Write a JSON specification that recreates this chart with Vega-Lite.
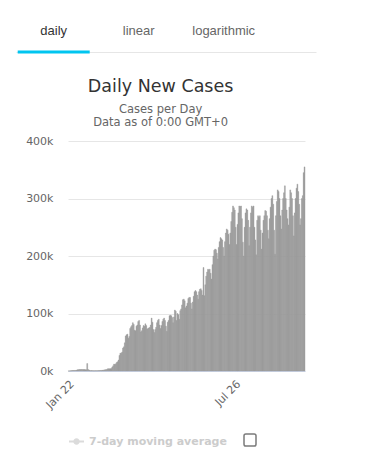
{
  "$schema": "https://vega.github.io/schema/vega-lite/v6.json",
  "background": "white",
  "padding": {"left": 16, "top": 10, "right": 0, "bottom": 0},
  "autosize": {"type": "pad"},
  "columns": 1,
  "spacing": 24,
  "config": {"view": {"stroke": null}, "font": "DejaVu Sans"},
  "concat": [
    {
      "width": 248,
      "height": 42,
      "data": {"values": [
        {"tab": "daily", "active": true},
        {"tab": "linear", "active": false},
        {"tab": "logarithmic", "active": false}
      ]},
      "encoding": {
        "x": {"field": "tab", "type": "nominal", "sort": null,
          "scale": {"type": "point", "range": [-52, 248], "padding": 0.765, "align": 0.29},
          "axis": {"labels": false, "ticks": false, "title": null, "domainColor": "#e6e6e6", "domainWidth": 1}}
      },
      "layer": [
        {"transform": [{"filter": "datum.active"}],
         "mark": {"type": "text", "font": "Liberation Sans", "fontSize": 13, "color": "#333333"},
         "encoding": {"text": {"field": "tab"}}},
        {"transform": [{"filter": "!datum.active"}],
         "mark": {"type": "text", "font": "Liberation Sans", "fontSize": 13, "color": "#666666"},
         "encoding": {"text": {"field": "tab"}}},
        {"transform": [{"filter": "datum.active"}],
         "mark": {"type": "tick", "color": "#00c5f0", "size": 72, "thickness": 3, "opacity": 1},
         "encoding": {"y": {"datum": 0, "type": "quantitative", "scale": {"domain": [0, 1]}, "axis": null}}}
      ]
    },
    {
      "width": 237,
      "height": 230,
      "title": {
        "text": "Daily New Cases",
        "subtitle": ["Cases per Day", "Data as of 0:00 GMT+0"],
        "frame": "bounds", "anchor": "middle",
        "font": "DejaVu Sans", "fontSize": 17.5, "fontWeight": "normal", "color": "#333333",
        "subtitleFont": "DejaVu Sans", "subtitleFontSize": 11.5, "subtitleColor": "#666666",
        "subtitlePadding": 8, "subtitleLineHeight": 13, "offset": 7
      },
      "layer": [
        {
          "data": {"values": [
{"date":"2020-01-22","cases":100},{"date":"2020-01-23","cases":150},{"date":"2020-01-24","cases":260},{"date":"2020-01-25","cases":450},{"date":"2020-01-26","cases":690},{"date":"2020-01-27","cases":800},{"date":"2020-01-28","cases":900},{"date":"2020-01-29","cases":950},{"date":"2020-01-30","cases":1000},{"date":"2020-01-31","cases":1100},
{"date":"2020-02-01","cases":2000},{"date":"2020-02-02","cases":2300},{"date":"2020-02-03","cases":2400},{"date":"2020-02-04","cases":2600},{"date":"2020-02-05","cases":2600},{"date":"2020-02-06","cases":2500},{"date":"2020-02-07","cases":2500},{"date":"2020-02-08","cases":2400},{"date":"2020-02-09","cases":2500},{"date":"2020-02-10","cases":2300},{"date":"2020-02-11","cases":2200},{"date":"2020-02-12","cases":13000},{"date":"2020-02-13","cases":2400},{"date":"2020-02-14","cases":1800},{"date":"2020-02-15","cases":700},{"date":"2020-02-16","cases":600},{"date":"2020-02-17","cases":700},{"date":"2020-02-18","cases":600},{"date":"2020-02-19","cases":400},{"date":"2020-02-20","cases":500},{"date":"2020-02-21","cases":500},{"date":"2020-02-22","cases":600},{"date":"2020-02-23","cases":500},{"date":"2020-02-24","cases":600},{"date":"2020-02-25","cases":700},{"date":"2020-02-26","cases":800},{"date":"2020-02-27","cases":900},{"date":"2020-02-28","cases":1000},{"date":"2020-02-29","cases":1100},
{"date":"2020-03-01","cases":1300},{"date":"2020-03-02","cases":1900},{"date":"2020-03-03","cases":2200},{"date":"2020-03-04","cases":2300},{"date":"2020-03-05","cases":2700},{"date":"2020-03-06","cases":3900},{"date":"2020-03-07","cases":3800},{"date":"2020-03-08","cases":3800},{"date":"2020-03-09","cases":3900},{"date":"2020-03-10","cases":4500},{"date":"2020-03-11","cases":7000},{"date":"2020-03-12","cases":9000},{"date":"2020-03-13","cases":12000},{"date":"2020-03-14","cases":11000},{"date":"2020-03-15","cases":12500},{"date":"2020-03-16","cases":15000},{"date":"2020-03-17","cases":16000},{"date":"2020-03-18","cases":19000},{"date":"2020-03-19","cases":27000},{"date":"2020-03-20","cases":31000},{"date":"2020-03-21","cases":31000},{"date":"2020-03-22","cases":33000},{"date":"2020-03-23","cases":40000},{"date":"2020-03-24","cases":42000},{"date":"2020-03-25","cases":49000},{"date":"2020-03-26","cases":61000},{"date":"2020-03-27","cases":63000},{"date":"2020-03-28","cases":64000},{"date":"2020-03-29","cases":57000},{"date":"2020-03-30","cases":60000},{"date":"2020-03-31","cases":74000},
{"date":"2020-04-01","cases":77000},{"date":"2020-04-02","cases":79000},{"date":"2020-04-03","cases":84000},{"date":"2020-04-04","cases":81000},{"date":"2020-04-05","cases":71000},{"date":"2020-04-06","cases":70000},{"date":"2020-04-07","cases":78000},{"date":"2020-04-08","cases":80000},{"date":"2020-04-09","cases":86000},{"date":"2020-04-10","cases":88000},{"date":"2020-04-11","cases":80000},{"date":"2020-04-12","cases":68000},{"date":"2020-04-13","cases":70000},{"date":"2020-04-14","cases":75000},{"date":"2020-04-15","cases":79000},{"date":"2020-04-16","cases":78000},{"date":"2020-04-17","cases":82000},{"date":"2020-04-18","cases":79000},{"date":"2020-04-19","cases":73000},{"date":"2020-04-20","cases":74000},{"date":"2020-04-21","cases":75000},{"date":"2020-04-22","cases":76000},{"date":"2020-04-23","cases":80000},{"date":"2020-04-24","cases":92000},{"date":"2020-04-25","cases":85000},{"date":"2020-04-26","cases":72000},{"date":"2020-04-27","cases":67000},{"date":"2020-04-28","cases":72000},{"date":"2020-04-29","cases":76000},{"date":"2020-04-30","cases":84000},
{"date":"2020-05-01","cases":88000},{"date":"2020-05-02","cases":90000},{"date":"2020-05-03","cases":80000},{"date":"2020-05-04","cases":74000},{"date":"2020-05-05","cases":79000},{"date":"2020-05-06","cases":86000},{"date":"2020-05-07","cases":90000},{"date":"2020-05-08","cases":92000},{"date":"2020-05-09","cases":88000},{"date":"2020-05-10","cases":78000},{"date":"2020-05-11","cases":69000},{"date":"2020-05-12","cases":85000},{"date":"2020-05-13","cases":88000},{"date":"2020-05-14","cases":96000},{"date":"2020-05-15","cases":97000},{"date":"2020-05-16","cases":96000},{"date":"2020-05-17","cases":93000},{"date":"2020-05-18","cases":84000},{"date":"2020-05-19","cases":94000},{"date":"2020-05-20","cases":106000},{"date":"2020-05-21","cases":104000},{"date":"2020-05-22","cases":88000},{"date":"2020-05-23","cases":100000},{"date":"2020-05-24","cases":98000},{"date":"2020-05-25","cases":90000},{"date":"2020-05-26","cases":105000},{"date":"2020-05-27","cases":108000},{"date":"2020-05-28","cases":115000},{"date":"2020-05-29","cases":124000},{"date":"2020-05-30","cases":125000},{"date":"2020-05-31","cases":122000},
{"date":"2020-06-01","cases":110000},{"date":"2020-06-02","cases":113000},{"date":"2020-06-03","cases":118000},{"date":"2020-06-04","cases":126000},{"date":"2020-06-05","cases":128000},{"date":"2020-06-06","cases":128000},{"date":"2020-06-07","cases":118000},{"date":"2020-06-08","cases":108000},{"date":"2020-06-09","cases":120000},{"date":"2020-06-10","cases":130000},{"date":"2020-06-11","cases":138000},{"date":"2020-06-12","cases":140000},{"date":"2020-06-13","cases":138000},{"date":"2020-06-14","cases":132000},{"date":"2020-06-15","cases":125000},{"date":"2020-06-16","cases":138000},{"date":"2020-06-17","cases":142000},{"date":"2020-06-18","cases":143000},{"date":"2020-06-19","cases":140000},{"date":"2020-06-20","cases":132000},{"date":"2020-06-21","cases":180000},{"date":"2020-06-22","cases":131000},{"date":"2020-06-23","cases":150000},{"date":"2020-06-24","cases":165000},{"date":"2020-06-25","cases":172000},{"date":"2020-06-26","cases":177000},{"date":"2020-06-27","cases":176000},{"date":"2020-06-28","cases":177000},{"date":"2020-06-29","cases":170000},{"date":"2020-06-30","cases":160000},
{"date":"2020-07-01","cases":185000},{"date":"2020-07-02","cases":200000},{"date":"2020-07-03","cases":210000},{"date":"2020-07-04","cases":212000},{"date":"2020-07-05","cases":211000},{"date":"2020-07-06","cases":205000},{"date":"2020-07-07","cases":195000},{"date":"2020-07-08","cases":215000},{"date":"2020-07-09","cases":225000},{"date":"2020-07-10","cases":232000},{"date":"2020-07-11","cases":230000},{"date":"2020-07-12","cases":228000},{"date":"2020-07-13","cases":215000},{"date":"2020-07-14","cases":200000},{"date":"2020-07-15","cases":225000},{"date":"2020-07-16","cases":240000},{"date":"2020-07-17","cases":247000},{"date":"2020-07-18","cases":245000},{"date":"2020-07-19","cases":238000},{"date":"2020-07-20","cases":220000},{"date":"2020-07-21","cases":240000},{"date":"2020-07-22","cases":260000},{"date":"2020-07-23","cases":276000},{"date":"2020-07-24","cases":287000},{"date":"2020-07-25","cases":284000},{"date":"2020-07-26","cases":280000},{"date":"2020-07-27","cases":250000},{"date":"2020-07-28","cases":220000},{"date":"2020-07-29","cases":255000},{"date":"2020-07-30","cases":275000},{"date":"2020-07-31","cases":287000},
{"date":"2020-08-01","cases":286000},{"date":"2020-08-02","cases":287000},{"date":"2020-08-03","cases":265000},{"date":"2020-08-04","cases":224000},{"date":"2020-08-05","cases":200000},{"date":"2020-08-06","cases":250000},{"date":"2020-08-07","cases":275000},{"date":"2020-08-08","cases":282000},{"date":"2020-08-09","cases":280000},{"date":"2020-08-10","cases":262000},{"date":"2020-08-11","cases":218000},{"date":"2020-08-12","cases":250000},{"date":"2020-08-13","cases":275000},{"date":"2020-08-14","cases":287000},{"date":"2020-08-15","cases":285000},{"date":"2020-08-16","cases":287000},{"date":"2020-08-17","cases":250000},{"date":"2020-08-18","cases":228000},{"date":"2020-08-19","cases":202000},{"date":"2020-08-20","cases":262000},{"date":"2020-08-21","cases":270000},{"date":"2020-08-22","cases":268000},{"date":"2020-08-23","cases":270000},{"date":"2020-08-24","cases":245000},{"date":"2020-08-25","cases":212000},{"date":"2020-08-26","cases":240000},{"date":"2020-08-27","cases":262000},{"date":"2020-08-28","cases":270000},{"date":"2020-08-29","cases":279000},{"date":"2020-08-30","cases":278000},{"date":"2020-08-31","cases":270000},
{"date":"2020-09-01","cases":245000},{"date":"2020-09-02","cases":230000},{"date":"2020-09-03","cases":265000},{"date":"2020-09-04","cases":285000},{"date":"2020-09-05","cases":300000},{"date":"2020-09-06","cases":305000},{"date":"2020-09-07","cases":290000},{"date":"2020-09-08","cases":245000},{"date":"2020-09-09","cases":203000},{"date":"2020-09-10","cases":270000},{"date":"2020-09-11","cases":295000},{"date":"2020-09-12","cases":315000},{"date":"2020-09-13","cases":312000},{"date":"2020-09-14","cases":300000},{"date":"2020-09-15","cases":270000},{"date":"2020-09-16","cases":247000},{"date":"2020-09-17","cases":280000},{"date":"2020-09-18","cases":300000},{"date":"2020-09-19","cases":310000},{"date":"2020-09-20","cases":322000},{"date":"2020-09-21","cases":300000},{"date":"2020-09-22","cases":280000},{"date":"2020-09-23","cases":265000},{"date":"2020-09-24","cases":254000},{"date":"2020-09-25","cases":285000},{"date":"2020-09-26","cases":315000},{"date":"2020-09-27","cases":310000},{"date":"2020-09-28","cases":300000},{"date":"2020-09-29","cases":270000},{"date":"2020-09-30","cases":235000},
{"date":"2020-10-01","cases":275000},{"date":"2020-10-02","cases":300000},{"date":"2020-10-03","cases":318000},{"date":"2020-10-04","cases":325000},{"date":"2020-10-05","cases":312000},{"date":"2020-10-06","cases":290000},{"date":"2020-10-07","cases":254000},{"date":"2020-10-08","cases":265000},{"date":"2020-10-09","cases":300000},{"date":"2020-10-10","cases":305000},{"date":"2020-10-11","cases":345000},{"date":"2020-10-12","cases":355000}
          ]},
          "mark": {"type": "bar", "color": "#999999", "stroke": "#999999", "strokeWidth": 0.4},
          "encoding": {
            "x": {"field": "date", "type": "ordinal",
              "scale": {"paddingInner": 0, "paddingOuter": 0},
              "axis": {"values": ["2020-01-22", "2020-07-26"],
                "labelExpr": "utcFormat(toDate(datum.value), '%b %d')",
                "labelAngle": -45, "ticks": false, "domainColor": "#ccd6eb", "title": null,
                "labelColor": "#666666", "labelFontSize": 11, "labelFont": "DejaVu Sans", "labelPadding": 7}},
            "y": {"field": "cases", "type": "quantitative",
              "scale": {"domain": [0, 400000]},
              "axis": {"values": [0, 100000, 200000, 300000, 400000], "format": "~s",
                "domain": false, "ticks": false, "gridColor": "#e6e6e6",
                "labelColor": "#666666", "labelFontSize": 11, "labelFont": "DejaVu Sans",
                "labelPadding": 15, "title": null, "minExtent": 52}}
          }
        },
        {
          "data": {"values": []},
          "mark": {"type": "point", "filled": true},
          "encoding": {
            "x": {"field": "date", "type": "ordinal"},
            "y": {"field": "cases", "type": "quantitative"},
            "color": {"datum": "7-day moving average",
              "scale": {"domain": ["7-day moving average"], "range": ["#cccccc"]},
              "legend": {"orient": "bottom", "title": null,
                "labelFont": "DejaVu Sans", "labelFontWeight": "bold", "labelFontSize": 11, "labelColor": "#cccccc",
                "symbolType": "M-1,-0.14H1V0.14H-1Z M0.43,0A0.43,0.43,0,1,1,-0.43,0A0.43,0.43,0,1,1,0.43,0Z",
                "symbolSize": 225, "offset": 22, "labelOffset": 4,
                "encode": {"symbols": {"update": {"fill": {"value": "#cccccc"}, "strokeWidth": {"value": 0}, "opacity": {"value": 1}}}}}}
          }
        },
        {
          "data": {"values": []},
          "mark": {"type": "point", "filled": false, "color": "#444444", "strokeWidth": 1},
          "encoding": {
            "x": {"field": "date", "type": "ordinal"},
            "y": {"field": "cases", "type": "quantitative"},
            "shape": {"datum": " ",
              "scale": {"domain": [" "], "range": ["M-0.7,-1H0.7Q1,-1,1,-0.7V0.7Q1,1,0.7,1H-0.7Q-1,1,-1,0.7V-0.7Q-1,-1,-0.7,-1Z"]},
              "legend": {"orient": "bottom", "title": null, "labelFontSize": 1,
                "symbolSize": 144, "offset": 22, "symbolOffset": 8,
                "encode": {"symbols": {"update": {"fill": {"value": "#ffffff"}, "stroke": {"value": "#444444"}, "strokeWidth": {"value": 1}, "opacity": {"value": 1}}}}}}
          }
        }
      ]
    }
  ]
}
